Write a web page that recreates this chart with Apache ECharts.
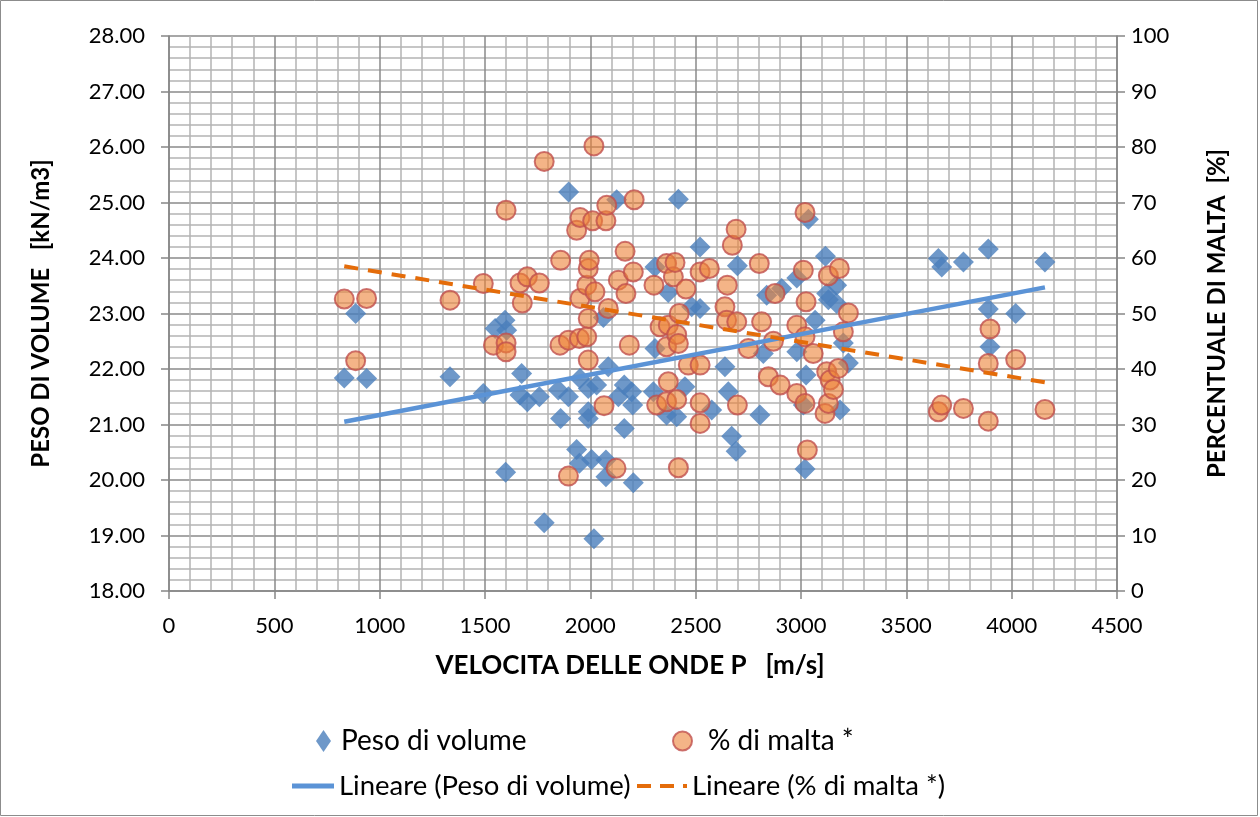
<!DOCTYPE html>
<html><head><meta charset="utf-8">
<script src="https://cdn.jsdelivr.net/npm/echarts@6/dist/echarts.min.js"></script>
<style>html,body{margin:0;padding:0;background:#fff}#c{width:1260px;height:817px}</style>
</head><body><div id="c"></div>
<script>
// ---- data ----
const pesoX = [832,886,938,1334,1492,1548,1595,1603,1598,1674,1666,1701,1758,1781,1848,1859,1897,1896,1935,1948,1951,1990,1990,1990,2006,2017,2030,2062,2074,2074,2085,2125,2133,2161,2161,2196,2201,2204,2299,2307,2307,2362,2370,2410,2418,2449,2481,2521,2521,2576,2639,2655,2671,2692,2698,2805,2821,2837,2908,2980,2980,3011,3019,3024,3035,3067,3116,3122,3130,3169,3169,3185,3201,3225,3652,3668,3771,3889,3889,3897,4019,4158];
const pesoY = [21.84,23.00,21.83,21.86,21.56,22.73,22.88,22.70,20.14,21.92,21.53,21.41,21.50,19.23,21.62,21.11,25.19,21.50,20.55,20.30,21.83,21.65,21.23,21.11,20.37,18.94,21.71,22.93,20.36,20.06,22.04,25.05,21.50,21.71,20.93,21.59,21.35,19.95,21.59,23.84,22.37,21.17,23.38,21.14,25.06,21.68,23.12,23.09,24.20,21.26,22.04,21.59,20.79,20.52,23.86,21.17,22.28,23.33,23.45,23.64,22.31,21.35,20.20,21.89,24.70,22.88,24.03,23.36,23.25,23.51,23.18,21.26,22.47,22.11,23.99,23.84,23.93,24.16,23.08,22.40,23.00,23.93];
const maltaX = [832,886,938,1334,1492,1540,1600,1600,1600,1666,1677,1701,1758,1781,1856,1859,1896,1896,1935,1948,1951,1951,1983,1983,1990,1990,1990,1995,2011,2017,2022,2065,2074,2078,2085,2122,2133,2165,2169,2185,2204,2208,2302,2315,2331,2362,2362,2362,2370,2370,2394,2402,2410,2418,2410,2418,2422,2454,2465,2521,2521,2521,2521,2565,2639,2647,2650,2674,2692,2695,2698,2750,2802,2813,2845,2869,2877,2901,2980,2980,3011,3019,3019,3019,3024,3030,3058,3114,3122,3130,3130,3138,3154,3177,3182,3201,3225,3652,3668,3771,3889,3889,3897,4019,4158];
const maltaY = [52.6,41.5,52.7,52.4,55.4,44.3,68.6,44.7,43.1,55.5,51.9,56.6,55.5,77.4,44.3,59.6,45.2,20.7,65.0,45.5,67.3,52.7,55.1,45.8,58.1,49.1,41.6,59.6,66.7,80.2,53.9,33.4,66.7,69.5,50.9,22.1,56.0,61.2,53.6,44.3,57.5,70.5,55.1,33.5,47.6,59.0,44.0,34.1,47.9,37.7,56.6,59.2,46.2,44.6,34.5,22.2,50.0,54.4,40.7,57.5,40.7,33.9,30.2,58.1,51.2,48.8,55.1,62.3,65.2,48.5,33.5,43.7,59.0,48.5,38.6,45.0,53.6,37.1,47.9,35.6,57.8,68.2,45.8,33.8,52.1,25.4,42.8,32.0,39.5,56.8,33.8,38.0,36.3,40.1,58.1,46.7,50.1,32.3,33.5,32.9,41.0,30.6,47.2,41.7,32.7];
const trendX = [832, 4158];
const trendPeso = [21.05, 23.47];
const trendMalta = [58.5, 37.6];
const xRange = [0, 4500, 500];
const yLeftRange = [18, 28, 1];
const yRightRange = [0, 100, 10];
const seriesNames = ['Peso di volume', '% di malta *', 'Lineare (Peso di volume)', 'Lineare (% di malta *)'];
const axisTitles = ['VELOCITA DELLE ONDE P   [m/s]', 'PESO DI VOLUME   [kN/m3]', 'PERCENTUALE DI MALTA  [%]'];

const zip = (a, b) => a.map((v, i) => [v, b[i]]);
const FONT = 'Lato';
const majorLine = { show: true, lineStyle: { color: '#8A8A8A', width: 1.5 } };
const minorLine = { show: true, lineStyle: { color: '#B4B4B4', width: 1.5 } };
const axLine = { show: true, lineStyle: { color: '#868686', width: 1.5 } };
const tick = { show: true, inside: false, length: 8, lineStyle: { color: '#868686', width: 1.5 } };
const lbl = { color: '#000', fontFamily: FONT, fontSize: 22 };
const legTxt = (pl, fs) => ({ fontFamily: FONT, fontSize: fs, color: '#000', padding: [0, 0, 0, pl] });

const chart = echarts.init(document.getElementById('c'), null, { renderer: 'canvas' });
chart.setOption({
  animation: false,
  backgroundColor: '#fff',
  grid: { left: 169, right: 143, top: 36, bottom: 226, containLabel: false },
  xAxis: {
    type: 'value', min: xRange[0], max: xRange[1], interval: xRange[2],
    name: axisTitles[0], nameLocation: 'middle', nameGap: 62,
    nameTextStyle: { color: '#000', fontFamily: FONT, fontSize: 26, fontWeight: 'bold', padding: [0, 26, 0, 0] },
    axisLine: axLine, axisTick: tick,
    axisLabel: Object.assign({ margin: 24, formatter: v => String(v) }, lbl),
    splitLine: majorLine, minorTick: { show: false, splitNumber: 5 }, minorSplitLine: minorLine
  },
  yAxis: [{
    type: 'value', min: yLeftRange[0], max: yLeftRange[1], interval: yLeftRange[2],
    name: axisTitles[1], nameLocation: 'middle', nameGap: 116, nameRotate: 90,
    nameTextStyle: { color: '#000', fontFamily: FONT, fontSize: 24, fontWeight: 'bold' },
    axisLine: axLine, axisTick: tick,
    axisLabel: Object.assign({ margin: 24, formatter: v => v.toFixed(2) }, lbl),
    splitLine: majorLine, minorTick: { show: false, splitNumber: 5 }, minorSplitLine: minorLine
  }, {
    type: 'value', position: 'right', min: yRightRange[0], max: yRightRange[1], interval: yRightRange[2],
    name: axisTitles[2], nameLocation: 'middle', nameGap: 88, nameRotate: 90,
    nameTextStyle: { color: '#000', fontFamily: FONT, fontSize: 24, fontWeight: 'bold' },
    axisLine: axLine, axisTick: tick, axisLabel: Object.assign({ margin: 14 }, lbl),
    splitLine: { show: false }
  }],
  legend: [
    { data: [seriesNames[0]], left: 316, top: 727, padding: 0, itemWidth: 15, itemHeight: 22, itemGap: 0, textStyle: legTxt(5, 28) },
    { data: [seriesNames[1]], left: 672, top: 727, padding: 0, itemWidth: 19, itemHeight: 19, itemGap: 0, textStyle: legTxt(11, 28) },
    { data: [{ name: seriesNames[2], icon: 'path://M0,0H42V5H0Z' }], left: 292, top: 772, padding: 0, itemWidth: 42, itemHeight: 5, itemGap: 0, textStyle: legTxt(0, 27.5) },
    { data: [{ name: seriesNames[3], icon: 'path://M0,0H14V4H0Z M23,0H37V4H23Z M46,0H50V4H46Z' }], left: 637, top: 772, padding: 0, itemWidth: 50, itemHeight: 4, itemGap: 0, textStyle: legTxt(0, 27.5) }
  ],
  series: [
    { name: seriesNames[0], type: 'scatter', yAxisIndex: 0, symbol: 'diamond', symbolSize: 21,
      itemStyle: { color: '#4A7EBB' }, data: zip(pesoX, pesoY), z: 2 },
    { name: seriesNames[1], type: 'scatter', yAxisIndex: 1, symbol: 'circle', symbolSize: 19,
      itemStyle: { color: 'rgba(236,128,52,0.74)', borderColor: '#C0504D', borderWidth: 2 },
      data: zip(maltaX, maltaY), z: 3 },
    { name: seriesNames[2], type: 'line', yAxisIndex: 0, symbol: 'none', silent: true,
      lineStyle: { color: '#5B93D6', width: 4.5 }, itemStyle: { color: '#5B93D6' },
      data: zip(trendX, trendPeso), z: 4 },
    { name: seriesNames[3], type: 'line', yAxisIndex: 1, symbol: 'none', silent: true,
      lineStyle: { color: '#E46C0A', width: 4, type: [14, 10] }, itemStyle: { color: '#E46C0A' },
      data: zip(trendX, trendMalta), z: 5 }
  ],
  graphic: [{ type: 'rect', shape: { x: 0.5, y: 0.5, width: 1257, height: 815 }, style: { fill: 'none', stroke: '#8C8C8C', lineWidth: 1 }, silent: true }]
});
</script></body></html>
